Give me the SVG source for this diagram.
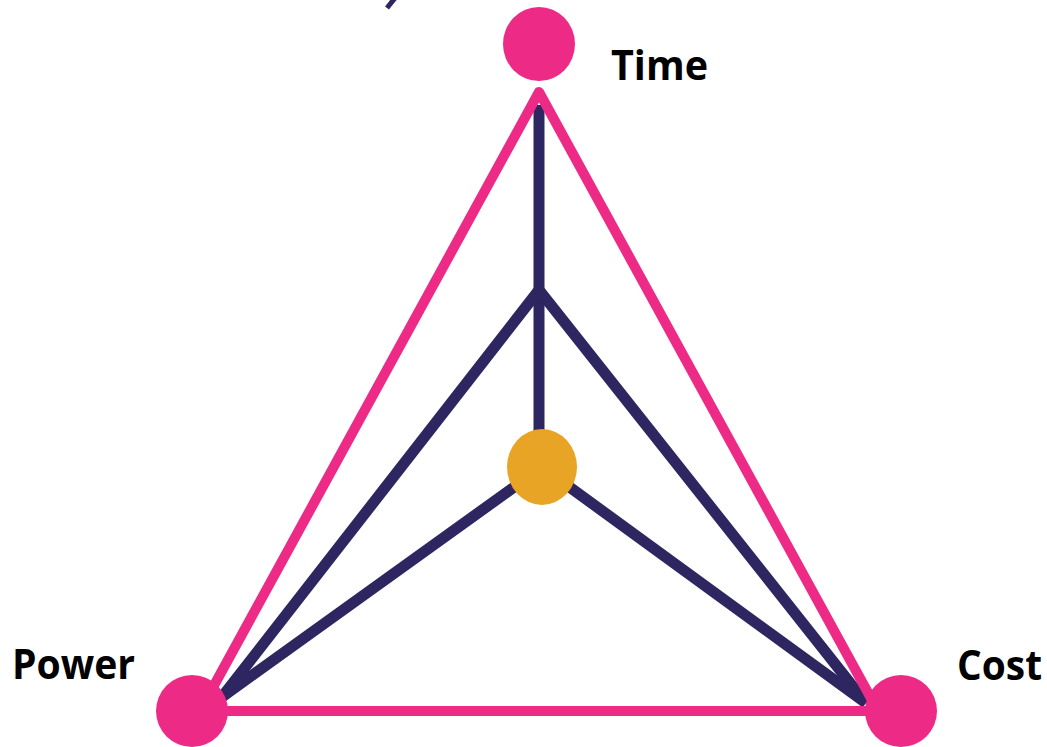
<svg xmlns="http://www.w3.org/2000/svg" width="1047" height="747" viewBox="0 0 1047 747">
<style>
.navy{stroke:#2D2660;stroke-width:11;fill:none;stroke-linejoin:round}
.pink{stroke:#EE2A87;stroke-width:10;fill:none;stroke-linejoin:round}
.node{fill:#EE2A87}
.center{fill:#E8A425}
.lbl{font-family:"Open Sans","Liberation Sans",sans-serif;font-weight:bold;font-size:42px;fill:#000}
</style>
<rect width="1047" height="747" fill="#fff"/>
<line x1="387" y1="8" x2="395" y2="-2" stroke="#2D2660" stroke-width="5"/>
<g id="connectors">
<line class="navy" x1="539" y1="105" x2="539" y2="450"/>
<polyline class="navy" points="222,697 539,290 866,703"/>
<polyline class="navy" points="222,697 542,467 866,703"/>
<polygon class="pink" points="539,92 200,711 878,711"/>
</g>
<g id="time"><ellipse class="node" cx="539" cy="44" rx="36" ry="37"/><text class="lbl" x="611" y="80" textLength="97" lengthAdjust="spacingAndGlyphs">Time</text></g>
<g id="power"><circle class="node" cx="192" cy="711" r="36"/><text class="lbl" x="12" y="679" textLength="123" lengthAdjust="spacingAndGlyphs">Power</text></g>
<g id="cost"><circle class="node" cx="901" cy="711" r="36"/><text class="lbl" x="957" y="680" textLength="85" lengthAdjust="spacingAndGlyphs">Cost</text></g>
<g id="center"><ellipse class="center" cx="542" cy="467" rx="35" ry="38"/></g>
</svg>
